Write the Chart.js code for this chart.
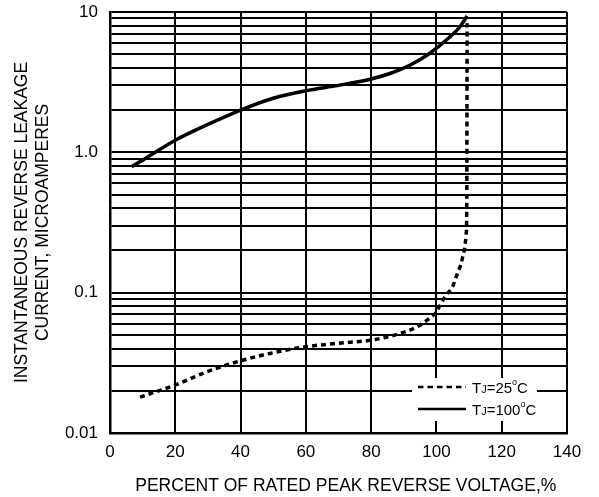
<!DOCTYPE html>
<html>
<head>
<meta charset="utf-8">
<script src="https://cdn.jsdelivr.net/npm/chart.js@4.4.1/dist/chart.umd.min.js"></script>
<style>
  html, body { margin: 0; padding: 0; background: #fff; }
  #wrap { width: 599px; height: 497px; }
</style>
</head>
<body>
<div id="wrap"><canvas id="leakChart" width="599" height="497"></canvas></div>
<script>
// TJ = 100°C (solid)
const tj100X = [6.6, 10, 20, 30, 40, 50, 60, 70, 80, 86, 92, 98, 104, 107.2, 109.4];
const tj100Y = [0.79, 0.88, 1.22, 1.58, 2.0, 2.43, 2.75, 3.0, 3.33, 3.66, 4.19, 5.08, 6.6, 7.85, 9.36];

// TJ = 25°C (dashed)
const tj25X = [9.2, 20, 30, 34, 40, 49, 60, 70, 80, 89, 94, 98, 100, 101.3, 103, 105, 106, 107.4, 108.3, 109.1, 109.3, 109.36, 109.4];
const tj25Y = [0.018, 0.022, 0.0275, 0.0296, 0.0327, 0.0369, 0.0412, 0.0436, 0.0459, 0.0513, 0.057, 0.066, 0.073, 0.083, 0.096, 0.111, 0.129, 0.157, 0.19, 0.26, 0.45, 2.0, 8.3];

const xTicks = [0, 20, 40, 60, 80, 100, 120, 140];
const yDecades = [0.01, 0.1, 1, 10];
const yLabels = ['0.01', '0.1', '1.0', '10'];

// grid lines at 1..9 x each decade
const yGrid = [];
yDecades.forEach((d, i) => {
    if (i === yDecades.length - 1) { yGrid.push(d); return; }
    for (let k = 1; k < 10; k++) yGrid.push(+(d * k).toPrecision(3));
});

const toPoints = (xs, ys) => xs.map((x, i) => ({ x: x, y: ys[i] }));

const font = "'Liberation Sans', Arial, sans-serif";

// legend drawn inside the plot, bottom right
const legendBox = {
    id: 'legendBox',
    afterDraw(chart) {
        const ctx = chart.ctx;
        const a = chart.chartArea;
        const bx = a.right - 155, by = a.bottom - 55;
        ctx.save();
        ctx.fillStyle = '#fff';
        ctx.fillRect(bx, by, 125, 43);
        ctx.strokeStyle = '#000';
        ctx.lineWidth = 2.7;
        const rows = [{ dash: [5.5, 4], t: '25', y: by + 9 }, { dash: [], t: '100', y: by + 31 }];
        rows.forEach(r => {
            ctx.setLineDash(r.dash);
            ctx.beginPath();
            ctx.moveTo(bx + 6, r.y);
            ctx.lineTo(bx + 54, r.y);
            ctx.stroke();
            ctx.setLineDash([]);
            let x = bx + 60;
            const base = r.y + 6;
            ctx.fillStyle = '#000';
            ctx.textBaseline = 'alphabetic';
            const piece = (s, f, dy) => {
                ctx.font = f;
                ctx.fillText(s, x, base + dy);
                x += ctx.measureText(s).width;
            };
            const nf = "'Liberation Sans Narrow', 'Liberation Sans', sans-serif";
            piece('T', '15px ' + nf, 0);
            piece('J', '11px ' + nf, 0);
            piece('=' + r.t, '15px ' + nf, 0);
            piece('o', '9px ' + nf, -8);
            piece('C', '15px ' + nf, 0);
        });
        ctx.restore();
    }
};

new Chart(document.getElementById('leakChart').getContext('2d'), {
    type: 'line',
    data: {
        datasets: [
            {
                label: 'TJ=25°C',
                data: toPoints(tj25X, tj25Y),
                borderColor: '#000',
                borderWidth: 3.5,
                borderDash: [5, 4],
                pointRadius: 0,
                cubicInterpolationMode: 'monotone',
                fill: false,
            },
            {
                label: 'TJ=100°C',
                data: toPoints(tj100X, tj100Y),
                borderColor: '#000',
                borderWidth: 3.5,
                pointRadius: 0,
                cubicInterpolationMode: 'monotone',
                fill: false,
            },
        ],
    },
    options: {
        responsive: false,
        animation: false,
        events: [],
        layout: { padding: { left: 0, right: 32, top: 12, bottom: 0 } },
        plugins: {
            legend: { display: false },
            tooltip: { enabled: false },
        },
        scales: {
            x: {
                type: 'linear',
                min: 0,
                max: 140,
                afterBuildTicks: s => { s.ticks = xTicks.map(v => ({ value: v })); },
                afterFit: s => { s.height = 64; },
                grid: { color: '#000', lineWidth: 2, drawTicks: false },
                border: { color: '#000', width: 2.5 },
                ticks: {
                    color: '#000',
                    font: { family: font, size: 17 },
                    padding: 9,
                    maxRotation: 0,
                    autoSkip: false,
                },
                title: {
                    display: true,
                    // leading spaces nudge the centred title to the right, as in the original
                    text: '   PERCENT OF RATED PEAK REVERSE VOLTAGE,%',
                    color: '#000',
                    font: { family: font, size: 17.5, lineHeight: 1.2 },
                    padding: { top: 4, bottom: 0 },
                },
            },
            y: {
                type: 'logarithmic',
                min: 0.01,
                max: 10,
                afterBuildTicks: s => { s.ticks = yGrid.map(v => ({ value: v })); },
                afterFit: s => {
                    s.width = 110;
                    s.paddingTop = 0;
                    s.paddingBottom = 0;
                },
                grid: { color: '#000', lineWidth: 2, drawTicks: false },
                border: { color: '#000', width: 2.5 },
                ticks: {
                    color: '#000',
                    font: { family: font, size: 17 },
                    padding: 12,
                    autoSkip: false,
                    callback: v => {
                        const i = yDecades.findIndex(d => Math.abs(d - v) < d * 1e-6);
                        return i >= 0 ? yLabels[i] : '';
                    },
                },
                title: {
                    display: true,
                    text: ['INSTANTANEOUS REVERSE LEAKAGE', 'CURRENT, MICROAMPERES'],
                    color: '#000',
                    font: { family: font, size: 17.5, lineHeight: 1.2 },
                    padding: { top: 12, bottom: 0 },
                },
            },
        },
    },
    plugins: [legendBox],
});
</script>
</body>
</html>
